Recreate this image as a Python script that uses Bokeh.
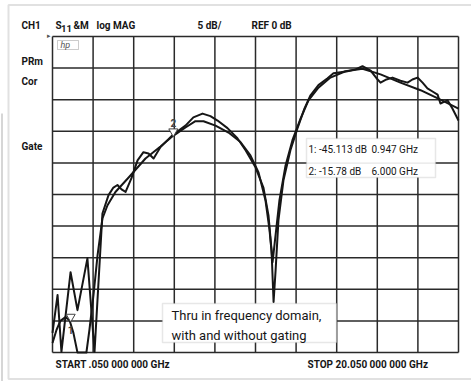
from bokeh.plotting import figure
from bokeh.models import Range1d, Label, BoxAnnotation, PolyAnnotation, ColumnDataSource
from bokeh.embed import file_html
from bokeh.resources import INLINE
from bokeh.core.properties import value

# ---------------- data ----------------
freq_ungated = [0.05, 0.30, 0.49, 0.94, 1.28, 1.77, 2.12, 2.51, 2.81, 3.05, 3.25, 3.45, 3.65,
                3.94, 4.24, 4.53, 4.78, 5.03, 5.37, 5.96, 6.60, 6.99, 7.44, 7.83, 8.18, 8.67,
                9.16, 9.56, 10.05, 10.44, 10.69, 10.84, 10.94, 11.04, 11.18, 11.43, 11.77,
                12.12, 12.46, 12.76, 13.15, 13.60, 13.89, 14.58, 14.98, 15.32, 15.72, 16.01,
                16.21, 16.50, 16.80, 17.19, 17.54, 17.78, 18.03, 18.28, 18.52, 18.77, 19.02,
                19.16, 19.36, 19.51, 19.75, 20.05]
db_ungated = [-46.9, -40.9, -49.9, -37.3, -43.3, -35.1, -49.9, -28.0, -25.1, -23.9, -23.5, -24.2,
              -24.6, -22.4, -19.6, -18.3, -18.5, -19.3, -17.5, -15.6, -14.1, -12.8, -12.2, -12.6,
              -13.3, -14.5, -16.1, -18.0, -20.7, -23.9, -28.3, -33.8, -42.0, -37.0, -29.1, -22.7,
              -18.0, -14.5, -11.4, -9.3, -7.7, -6.6, -5.8, -5.5, -5.2, -4.7, -5.4, -6.6, -7.3,
              -6.8, -6.5, -7.0, -7.3, -6.8, -6.5, -7.3, -8.2, -8.7, -9.2, -10.6, -10.3, -10.1,
              -11.4, -13.3]

freq_gated = [0.05, 0.25, 0.44, 0.69, 0.89, 1.08, 1.28, 1.72, 1.87, 2.07, 2.27, 2.51, 2.76,
              3.15, 3.89, 4.63, 5.37, 5.96, 6.60, 7.09, 7.49, 8.08, 8.72, 9.31, 9.80, 10.20,
              10.54, 10.74, 10.89, 11.04, 11.23, 11.53, 11.87, 12.27, 12.66, 13.15, 13.74,
              14.48, 15.32, 16.21, 17.19, 18.18, 19.16, 20.05]
db_gated = [-48.5, -46.4, -45.0, -44.4, -44.9, -46.9, -50.0, -50.0, -46.4, -40.9, -34.6, -28.8,
            -26.7, -24.6, -22.0, -19.3, -17.4, -15.8, -14.4, -13.4, -13.4, -14.1, -15.2, -16.7,
            -18.8, -21.5, -25.9, -30.6, -35.7, -31.4, -25.9, -20.4, -16.4, -13.0, -10.1, -8.1,
            -6.5, -5.5, -5.1, -6.0, -7.3, -8.5, -10.0, -11.4]

marker_names = ["1", "2"]
marker_freq = [0.947, 6.000]
marker_db = [-45.113, -15.78]

start_ghz, stop_ghz = 0.05, 20.05
ref_db, db_per_div, n_div = 0.0, 5.0, 10
x_ticks = [start_ghz + i * (stop_ghz - start_ghz) / n_div for i in range(n_div + 1)]
y_ticks = [ref_db - i * db_per_div for i in range(n_div + 1)]

header_labels = ["CH1", "&M", "log MAG", "5 dB/", "REF 0 dB"]
side_labels = ["PRm", "Cor", "Gate"]
start_text = "START  .050 000 000 GHz"
stop_text = "STOP 20.050 000 000 GHz"
note_lines = ["Thru in frequency domain,", "with and without gating"]

# ---------------- layout ----------------
W, H = 471, 381
FL, FR, FT, FB = 52, 458, 36, 352      # grid area in picture pixels
y_bottom = ref_db - n_div * db_per_div

FONT = "Roboto"
INK = "#161616"


def gx(px):
    return start_ghz + (px - FL) / (FR - FL) * (stop_ghz - start_ghz)


def gy(py):
    return ref_db - (py - FT) / (FB - FT) * (ref_db - y_bottom)


# the frame fills the whole canvas, so every text can live in data space
p = figure(width=W, height=H, output_backend="svg", toolbar_location=None,
           x_axis_location=None, y_axis_location=None,
           x_range=Range1d(gx(0), gx(W)), y_range=Range1d(gy(H), gy(0)),
           min_border=0)
p.background_fill_color = "white"
p.border_fill_color = "white"
p.outline_line_color = None
p.grid.visible = False

# grid (10 x 10 divisions)
p.segment(x0=x_ticks, y0=[y_bottom] * len(x_ticks), x1=x_ticks, y1=[ref_db] * len(x_ticks),
          line_color="#2a2a2a", line_width=1.5)
p.segment(x0=[start_ghz] * len(y_ticks), y0=y_ticks, x1=[stop_ghz] * len(y_ticks), y1=y_ticks,
          line_color="#2a2a2a", line_width=1.5)

# outer frame of the picture
p.add_layout(PolyAnnotation(xs=[gx(8), gx(520), gx(520), gx(8)],
                            ys=[gy(4.5), gy(4.5), gy(378.5), gy(378.5)],
                            fill_alpha=0, line_color="#9a9a9a", line_width=2))
p.add_layout(PolyAnnotation(xs=[gx(1.5), gx(1.5)], ys=[gy(113), gy(390)],
                            fill_alpha=0, line_color="#777777", line_width=2))

# traces
p.line(freq_ungated, db_ungated, line_color=INK, line_width=2.0, line_join="round")
p.line(freq_gated, db_gated, line_color=INK, line_width=2.0, line_join="round")

# markers
msrc = ColumnDataSource(dict(f=marker_freq, db=[d + 0.75 for d in marker_db], name=marker_names,
                             off=[17 if i == 0 else -4 for i in range(len(marker_names))]))
p.scatter("f", "db", source=msrc, marker="inverted_triangle", size=9,
          fill_color="white", line_color="#444444", line_width=1)
p.text("f", "db", text="name", source=msrc, text_align="center", text_baseline="bottom",
       y_offset="off", text_font=value(FONT), text_font_size="10px", text_font_style="bold",
       text_color="#444444")


def lab(px, py, txt, size="10px", style="normal", color=INK, **kw):
    p.add_layout(Label(x=gx(px), y=gy(py), text=txt, text_baseline="middle",
                       text_font=FONT, text_font_size=size, text_font_style=style,
                       text_color=color, **kw))


# header
lab(21, 24.5, header_labels[0], style="bold")
lab(55, 24.5, "S", style="bold")
lab(60.5, 28, "11", size="9.5px", style="bold")
lab(73, 24.5, header_labels[1], style="bold")
lab(96, 24.5, header_labels[2], style="bold")
lab(197, 24.5, header_labels[3], style="bold")
lab(251, 24.5, header_labels[4], style="bold")

# side labels
lab(21, 61, side_labels[0], style="bold")
lab(21, 81, side_labels[1], style="bold")
lab(21, 146, side_labels[2], style="bold")

# small reference pointer and hp logo
lab(46, 35, "\u25b8", size="7px", color="#555555")
p.add_layout(BoxAnnotation(left=gx(57), right=gx(78), top=gy(40), bottom=gy(49),
                           fill_color="white", fill_alpha=1, line_color="#555555", line_width=1))
lab(60, 44.5, "hp", size="9px", style="italic", color="#555555")

# bottom labels
lab(55, 364, start_text, size="10px", style="bold")
lab(307, 364, stop_text, size="10px", style="bold")

# marker readout box
p.add_layout(BoxAnnotation(left=gx(306), right=gx(435), top=gy(138), bottom=gy(177),
                           fill_color="white", fill_alpha=1, line_color="#b0b0b0", line_width=1.5))
p.add_layout(PolyAnnotation(xs=[gx(306), gx(435)], ys=[gy(162.6), gy(162.6)],
                            fill_alpha=0, line_color="#a8a8a8", line_width=1.2))
for i, (n, f, d) in enumerate(zip(marker_names, marker_freq, marker_db)):
    yy = 148.5 + i * 22
    dtxt = f"{d:.3f}" if i == 0 else f"{d:.2f} "
    lab(308, yy, f"{n}: {dtxt} dB", size="10px")
    lab(371, yy, f"{f:.3f} GHz", size="10px")

# note box
p.add_layout(BoxAnnotation(left=gx(162), right=gx(336), top=gy(303), bottom=gy(342),
                           fill_color="white", fill_alpha=1, line_color="#b0b0b0", line_width=1.5))
lab(171, 315, note_lines[0], size="13px")
lab(171, 335, note_lines[1], size="13px")

open("out.html", "w").write(file_html(p, INLINE))
